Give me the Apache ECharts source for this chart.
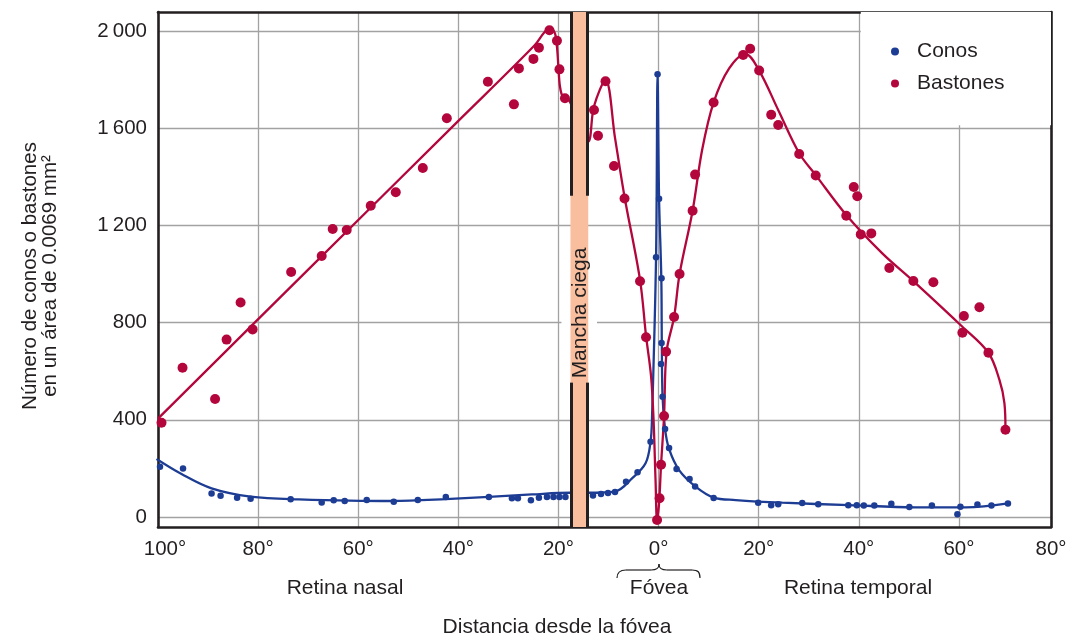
<!DOCTYPE html>
<html>
<head>
<meta charset="utf-8">
<script src="https://cdn.jsdelivr.net/npm/echarts@6/dist/echarts.min.js"></script>
<style>html,body{margin:0;padding:0;background:#fff}#c{width:1070px;height:636px}</style>
</head>
<body>
<div id="c"></div>
<script>
// ---- data ----
const xTickValues = [-100, -80, -60, -40, -20, 0, 20, 40, 60, 80];
const xTickLabels = ['100°', '80°', '60°', '40°', '20°', '0°', '20°', '40°', '60°', '80°'];
const yTickValues = [0, 400, 800, 1200, 1600, 2000];
const yTickLabels = ['0', '400', '800', '1\u2009200', '1\u2009600', '2\u2009000'];

const bastonesPts = [
  [-99.3,388],[-95.1,614],[-88.6,486],[-86.3,730],[-83.5,883],[-81.1,772],[-73.4,1008],[-67.3,1074],
  [-65.1,1185],[-62.3,1181],[-57.5,1281],[-52.5,1336],[-47.1,1436],[-42.3,1641],[-34.1,1791],[-28.9,1698],
  [-27.9,1846],[-25.0,1885],[-23.9,1931],[-21.8,2003],[-20.3,1960],[-19.8,1842],[-18.7,1723],
  [-12.9,1675],[-12.1,1569],[-10.6,1793],[-8.9,1444],[-6.8,1311],[-3.7,970],[-2.5,740],[-0.3,-12],
  [0.2,77],[0.5,215],[1.1,416],[1.5,680],[3.1,823],[4.2,1000],[6.8,1260],[7.3,1409],[11.0,1706],
  [16.9,1901],[18.3,1927],[20.1,1837],[22.5,1655],[23.9,1613],[28.1,1494],[31.4,1405],[37.5,1240],
  [39.0,1358],[39.7,1320],[40.4,1163],[42.5,1167],[46.1,1025],[50.9,971],[54.9,966],[60.7,758],
  [61.0,827],[64.1,863],[65.9,676],[69.3,359]
];
const conosPts = [
  [-99.6,207],[-95.0,200],[-89.3,97],[-87.5,88],[-84.2,79],[-81.5,75],[-73.5,73],[-67.3,60],[-64.9,69],
  [-62.7,66],[-58.3,70],[-52.9,63],[-48.1,70],[-42.5,82],[-33.9,82],[-29.3,77],[-28.1,77],[-25.5,69],
  [-23.9,79],[-22.3,82],[-21.0,82],[-19.8,82],[-18.6,82],
  [-13.1,89],[-11.5,95],[-10.1,99],[-8.7,103],[-6.5,145],[-4.2,184],[-1.6,310],[-0.5,1069],[-0.2,1822],
  [0.1,1310],[0.6,983],[0.6,716],[0.5,630],[0.8,495],[1.3,362],[2.1,284],[3.6,198],[6.2,156],[7.3,126],
  [11.0,78],[19.9,59],[22.5,49],[23.9,53],[28.7,58],[31.9,53],[37.9,48],[39.6,49],[41.0,47],[43.1,47],
  [46.5,55],[50.1,41],[54.6,47],[59.7,11],[60.3,42],[63.7,52],[66.5,47],[69.8,56]
];
// fitted curves as drawn in the reference
const bastonesCurve = [
  [-100,405],[-70,1018],[-40.5,1620],[-24.8,1940],[-22.8,1995],[-21.6,2012],[-20.7,1990],[-20.3,1935],
  [-20.0,1850],[-19.7,1772],[-19.1,1728],[-17.9,1716],[-14.1,1544],[-12.9,1690],[-10.6,1798],[-8.7,1560],
  [-6.8,1318],[-3.7,975],[-2.5,745],[-1.5,580],[-1.0,400],[-0.6,150],[-0.3,-15],[0.1,56],[0.5,215],
  [1.1,416],[1.6,680],[3.1,823],[4.2,1000],[6.8,1260],[8.7,1510],[11.0,1706],[14.1,1846],[17.4,1905],
  [20.1,1837],[23.9,1675],[28.1,1497],[31.4,1407],[37.5,1243],[44.7,1085],[50.9,971],
  [60.7,783],[65.9,676],[68.1,564],[69.1,468],[69.3,359]
];
const conosCurve = [
  [-100.3,239],[-95.3,177],[-89.3,118],[-81.5,84],[-71.9,73],[-53.3,66],[-42.5,74],[-25.3,93],[-17.6,100],
  [-14.1,100],[-8.6,106],[-5.3,159],[-2.6,221],[-1.6,310],[-1.3,413],[-0.5,1069],[-0.2,1822],[0.1,1312],
  [0.55,983],[0.65,716],[0.8,495],[1.3,362],[2.1,280],[4.1,193],[7.4,125],[11.0,80],[15.4,70],
  [24.7,59],[38.1,49],[51.3,40],[61.4,40],[69.8,56]
];
const blindSpot = [-17.6, -14.05];

// ---- chart ----
const X_MIN = -100, X_MAX = 78.4, Y_MIN = -41, Y_MAX = 2078;
const xLabelValues = xTickValues.map(v => Math.min(v, X_MAX));
const RED = '#B3063C', BLUE = '#1D3C93', INK = '#231F20', GRID = '#A2A2A2';
const FONT = '"Liberation Sans", Arial, Helvetica, sans-serif';

const chart = echarts.init(document.getElementById('c'), null, {renderer: 'canvas'});
const option = {
  animation: false,
  backgroundColor: '#fff',
  textStyle: {fontFamily: FONT, color: INK},
  grid: {left: 158, right: 19, top: 12, bottom: 109, show: false},
  legend: {
    data: ['Conos', 'Bastones'], orient: 'vertical', left: 886, top: 36,
    icon: 'circle', itemWidth: 22, itemHeight: 8, itemGap: 11,
    textStyle: {fontFamily: FONT, fontSize: 21, color: INK, padding: [0, 0, 0, 6]}
  },
  xAxis: [{
    type: 'value', min: X_MIN, max: X_MAX, position: 'bottom',
    axisLine: {show: true, onZero: false, lineStyle: {color: INK, width: 2.6}},
    axisTick: {show: false, customValues: xTickValues.slice(1, -1)},
    splitLine: {show: true, lineStyle: {color: GRID, width: 1.3}},
    axisLabel: {
      customValues: xLabelValues, margin: 12, fontSize: 20.5, color: INK, fontFamily: FONT,
      formatter: v => {
        const i = xLabelValues.indexOf(v);
        const t = i >= 0 ? xTickLabels[i] : '';
        return i === 0 ? '{e|' + t + '}' : t;
      },
      rich: {e: {padding: [0, 0, 0, 14], fontSize: 20.5, color: INK, fontFamily: FONT}}
    }
  }, {
    type: 'value', min: X_MIN, max: X_MAX, position: 'top',
    axisLine: {show: true, onZero: false, lineStyle: {color: INK, width: 2.6}},
    axisTick: {show: false}, axisLabel: {show: false}, splitLine: {show: false}
  }],
  yAxis: [{
    type: 'value', min: Y_MIN, max: Y_MAX, position: 'left',
    axisLine: {show: true, onZero: false, lineStyle: {color: INK, width: 2.6}},
    axisTick: {show: false, customValues: yTickValues},
    splitLine: {show: true, lineStyle: {color: GRID, width: 1.3}},
    axisLabel: {
      customValues: yTickValues, margin: 11, fontSize: 20.5, color: INK, fontFamily: FONT,
      formatter: v => { const i = yTickValues.indexOf(v); return i >= 0 ? yTickLabels[i] : ''; }
    }
  }, {
    type: 'value', min: Y_MIN, max: Y_MAX, position: 'right',
    axisLine: {show: true, onZero: false, lineStyle: {color: INK, width: 2.6}},
    axisTick: {show: false}, axisLabel: {show: false}, splitLine: {show: false}
  }],
  series: [
    { // white knock-outs (legend box, label box)
      name: 'bg', type: 'line', data: [], z: 1, silent: true,
      markArea: {
        silent: true, z: 1, itemStyle: {color: '#fff'},
        data: [
          [{coord: [40.4, 1612]}, {coord: [X_MAX, Y_MAX]}],
          [{coord: [-19.4, 650]}, {coord: [-12.3, 1000]}]
        ]
      }
    },
    {
      name: 'Conos ajuste', type: 'line', data: conosCurve, showSymbol: false, smooth: 0.35,
      silent: true, z: 3, lineStyle: {color: BLUE, width: 2.3}
    },
    {
      name: 'Bastones ajuste', type: 'line', data: bastonesCurve, showSymbol: false, smooth: 0.35,
      silent: true, z: 3, lineStyle: {color: RED, width: 2.3}
    },
    {
      name: 'Conos', type: 'scatter', data: conosPts, symbol: 'circle', symbolSize: 6.5, z: 4,
      itemStyle: {color: BLUE, opacity: 1}
    },
    {
      name: 'Bastones', type: 'scatter', data: bastonesPts, symbol: 'circle', symbolSize: 10, z: 4,
      itemStyle: {color: RED, opacity: 1}
    },
    { // blind spot band
      name: 'band', type: 'line', data: [], z: 10, silent: true,
      markArea: {
        silent: true, z: 10, itemStyle: {color: '#F8BE9E', opacity: 1},
        data: [[{coord: [blindSpot[0], Y_MIN]}, {coord: [blindSpot[1], Y_MAX]}]]
      },
      markLine: {
        silent: true, z: 11, symbol: 'none', label: {show: false},
        lineStyle: {color: INK, width: 3, type: 'solid'},
        data: [
          [{coord: [-17.45, Y_MIN]}, {coord: [-17.45, 553]}],
          [{coord: [-17.45, 1322]}, {coord: [-17.45, Y_MAX]}],
          [{coord: [-14.25, Y_MIN]}, {coord: [-14.25, 553]}],
          [{coord: [-14.25, 1322]}, {coord: [-14.25, Y_MAX]}]
        ]
      }
    }
  ],
  graphic: [
    {type: 'text', x: 580, y: 313, rotation: Math.PI / 2, z: 100,
     style: {text: 'Mancha ciega', font: '21px ' + FONT, fill: INK, align: 'center', verticalAlign: 'middle'}},
    {type: 'text', x: 40, y: 276, rotation: Math.PI / 2, z: 100,
     style: {text: 'Número de conos o bastones\nen un área de 0.0069 mm²', font: '20.5px ' + FONT, fill: INK,
             align: 'center', verticalAlign: 'middle', lineHeight: 20}},
    {type: 'text', x: 345, y: 588, style: {text: 'Retina nasal', font: '21px ' + FONT, fill: INK, align: 'center', verticalAlign: 'middle'}},
    {type: 'text', x: 659, y: 588, style: {text: 'Fóvea', font: '21px ' + FONT, fill: INK, align: 'center', verticalAlign: 'middle'}},
    {type: 'text', x: 858, y: 588, style: {text: 'Retina temporal', font: '21px ' + FONT, fill: INK, align: 'center', verticalAlign: 'middle'}},
    {type: 'text', x: 557, y: 627, style: {text: 'Distancia desde la fóvea', font: '21px ' + FONT, fill: INK, align: 'center', verticalAlign: 'middle'}},
    {type: 'bezierCurve', shape: {x1: 617, y1: 578, cpx1: 617, cpy1: 572, cpx2: 620, cpy2: 570, x2: 626, y2: 570},
     style: {stroke: INK, lineWidth: 1.2, fill: null}},
    {type: 'line', shape: {x1: 626, y1: 570, x2: 651, y2: 570}, style: {stroke: INK, lineWidth: 1.2}},
    {type: 'bezierCurve', shape: {x1: 651, y1: 570, cpx1: 656, cpy1: 570, cpx2: 659, cpy2: 569, x2: 659, y2: 564},
     style: {stroke: INK, lineWidth: 1.2, fill: null}},
    {type: 'bezierCurve', shape: {x1: 659, y1: 564, cpx1: 659, cpy1: 569, cpx2: 662, cpy2: 570, x2: 667, y2: 570},
     style: {stroke: INK, lineWidth: 1.2, fill: null}},
    {type: 'line', shape: {x1: 667, y1: 570, x2: 692, y2: 570}, style: {stroke: INK, lineWidth: 1.2}},
    {type: 'bezierCurve', shape: {x1: 692, y1: 570, cpx1: 698, cpy1: 570, cpx2: 700, cpy2: 572, x2: 700, y2: 578},
     style: {stroke: INK, lineWidth: 1.2, fill: null}}
  ]
};
chart.setOption(option);
</script>
</body>
</html>
